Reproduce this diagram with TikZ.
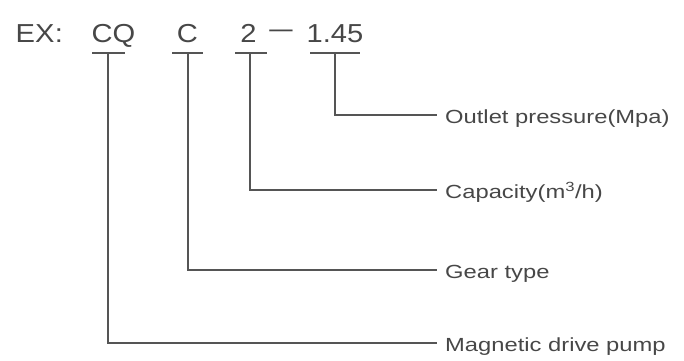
\documentclass[tikz,border=0pt]{standalone}
\usepackage{fontspec}
\newfontfamily\labfont{Liberation Sans}[FakeStretch=1.25]
\newfontfamily\topfont{Liberation Sans}[FakeStretch=1.12]
\definecolor{ink}{HTML}{474747}
\definecolor{wire}{HTML}{555555}
\begin{document}
\begin{tikzpicture}[x=1pt,y=-1pt,
  toptext/.style={anchor=base,inner sep=0pt,text=ink,font=\topfont\fontsize{26}{26}\selectfont},
  lab/.style={anchor=west,inner xsep=8pt,inner ysep=0pt,text height=16pt,text depth=0pt,text=ink,font=\labfont\fontsize{19}{19}\selectfont},
  conn/.style={draw=wire,line width=1.2pt},
  uline/.style={draw=wire,line width=1.4pt}]
\useasboundingbox (0,0) rectangle (684,360);
% top code
\node[toptext] (ex) at (35,42) {EX};
\node[toptext] (colon) at (59,42) {:};
\node[toptext] (cq) at (113.5,42) {CQ};
\node[toptext] (c) at (187.5,42) {C};
\node[toptext] (two) at (248.5,42) {2};
\node[toptext] (dash) at (281,42) {\raisebox{5pt}{\scalebox{0.8}[1]{—}}};
\node[toptext] (p) at (335,42) {1.45};
% underlines
\coordinate (u1) at (108,53);
\coordinate (u2) at (188,53);
\coordinate (u3) at (250,53);
\coordinate (u4) at (335,53);
\draw[uline] (92,53) -- (125,53);
\draw[uline] (172,53) -- (203,53);
\draw[uline] (235,53) -- (267,53);
\draw[uline] (310,53) -- (360,53);
% labels
\node[lab] (out) at (437,115) {Outlet pressure(Mpa)};
\node[lab] (cap) at (437,190) {Capacity(m\textsuperscript{3}/h)};
\node[lab] (gear) at (437,270) {Gear type};
\node[lab] (mag) at (437,343) {Magnetic drive pump};
% connectors
\draw[conn] (u4) |- (out.west);
\draw[conn] (u3) |- (cap.west);
\draw[conn] (u2) |- (gear.west);
\draw[conn] (u1) |- (mag.west);
\end{tikzpicture}
\end{document}
